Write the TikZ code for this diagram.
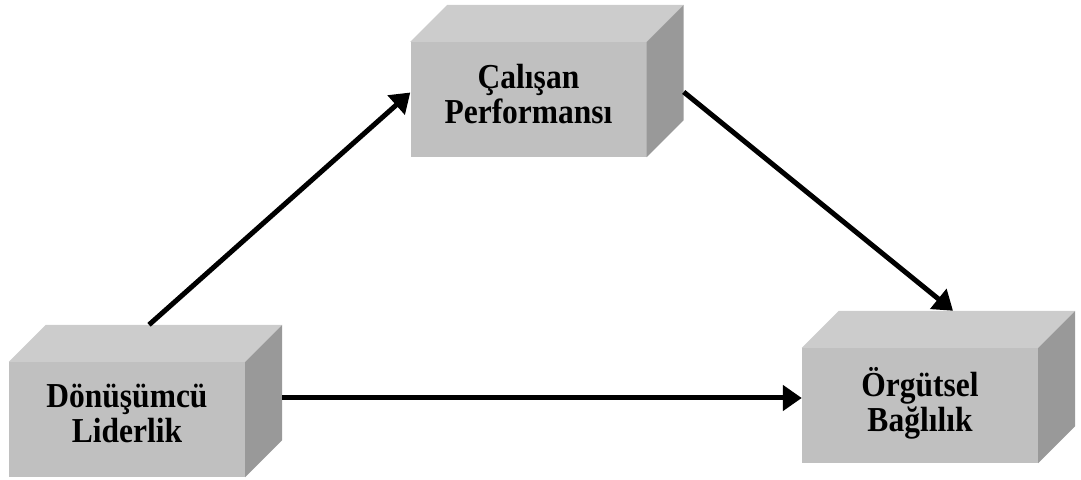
\documentclass[tikz,border=0pt]{standalone}
\usepackage{fontspec}
\setmainfont{Liberation Serif}
\newfontfamily\boxfont{Liberation Serif}[FakeStretch=0.9]
\usetikzlibrary{arrows.meta,calc}
\definecolor{FrontGray}{RGB}{192,192,192}
\definecolor{TopGray}{RGB}{204,204,204}
\definecolor{SideGray}{RGB}{153,153,153}

\begin{document}
\begin{tikzpicture}[x=1pt,y=1pt,
        cube/.style={fill=FrontGray, minimum width=236pt, minimum height=115pt, inner sep=0pt,
            text depth=12pt, align=center, font=\boxfont\fontsize{35}{35}\selectfont\bfseries},
        link/.style={line width=5pt, -{Triangle[length=19pt,width=25pt]}}]
        % Define the depth of the boxes
        \def\depth{37}

        \useasboundingbox (0,0) rectangle (1081,479);

        % Draw the front faces
        \node[cube] (lider) at (127,59.5) {Dönüşümcü\\Liderlik};
        \node[cube] (calisan) at (528.5,379.5) {Çalışan\\Performansı};
        \node[cube] (orgutsel) at (920,73.5) {Örgütsel\\Bağlılık};

        % Add the top and side faces
        \foreach \cname in {lider, calisan, orgutsel} {
            \fill[TopGray] (\cname.north west) -- ++(\depth,\depth) -- ($(\cname.north east)+(\depth,\depth)$) -- (\cname.north east) -- cycle;
            \fill[SideGray] (\cname.north east) -- ++(\depth,\depth) -- ($(\cname.south east)+(\depth,\depth)$) -- (\cname.south east) -- cycle;
        }

        % Ends of the arrows
        \coordinate (lider-top) at ($(lider.north)+(22,\depth)$);
        \coordinate (lider-side) at ($(lider.east)+(\depth,21.5)$);
        \coordinate (calisan-in) at ($(calisan.west)+(0,7)$);
        \coordinate (calisan-side) at ($(calisan.east)+(\depth,7.5)$);
        \coordinate (orgutsel-top) at ($(orgutsel.north)+(33,\depth)$);
        \coordinate (orgutsel-in) at ($(orgutsel.west)+(0,7.5)$);

        % Draw the arrows
        \draw[link] (lider-top) -- (calisan-in);
        \draw[link] (calisan-side) -- (orgutsel-top);
        \draw[link] (lider-side) -- (orgutsel-in);
    \end{tikzpicture}
\end{document}
